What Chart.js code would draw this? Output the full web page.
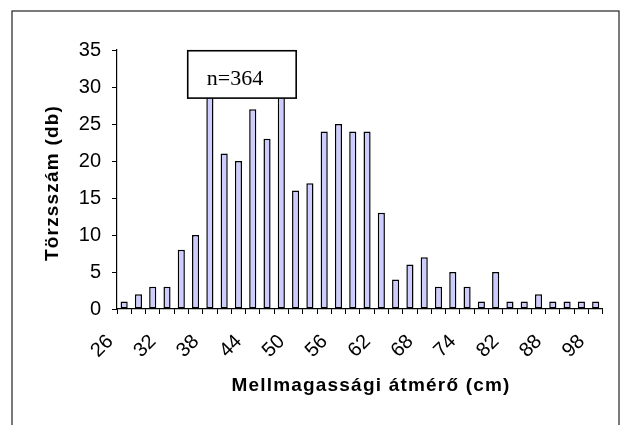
<!DOCTYPE html>
<html>
<head>
<meta charset="utf-8">
<script src="https://cdn.jsdelivr.net/npm/chart.js@4"></script>
<style>
  html, body { margin: 0; padding: 0; background: #fff; }
  #wrap { width: 629px; height: 425px; }
</style>
</head>
<body>
<div id="wrap"><canvas id="chart" width="629" height="425"></canvas></div>
<script>
// diameter classes (cm) and tree counts per class
const diameters = [26, 28, 30, 32, 34, 36, 38, 40, 42, 44, 46, 48, 50, 52, 54, 56, 58,
  60, 62, 64, 66, 68, 70, 72, 74, 76, 80, 82, 84, 86, 88, 92, 94, 98];
const treeCounts = [1, 2, 3, 3, 8, 10, 31, 21, 20, 27, 23, 30, 16, 17, 24, 25, 24,
  24, 13, 4, 6, 7, 3, 5, 3, 1, 5, 1, 1, 2, 1, 1, 1, 1];
const yTicks = [0, 5, 10, 15, 20, 25, 30, 35];
const sampleNote = "n=364";
const xTitle = "Mellmagassági átmérő (cm)";
const yTitle = "Törzsszám (db)";

const SANS = "'Liberation Sans', Arial, sans-serif";
const SERIF = "'Liberation Serif', 'Times New Roman', serif";

// white background + outer frame
const framePlugin = {
  id: "frame",
  beforeDraw(chart) {
    const ctx = chart.ctx;
    ctx.save();
    ctx.fillStyle = "#fff";
    ctx.fillRect(0, 0, chart.width, chart.height);
    ctx.strokeStyle = "#222";
    ctx.lineWidth = 1.2;
    ctx.strokeRect(12, 11, 607, 460);
    ctx.restore();
  }
};

// the "n=" text box sits on top of the tallest bars
const noteBoxPlugin = {
  id: "noteBox",
  afterDatasetsDraw(chart) {
    const { ctx, scales: { x, y } } = chart;
    const left = x.getPixelForValue(4.45);
    const right = x.getPixelForValue(12.04);
    const top = y.getPixelForValue(34.9);
    const bottom = y.getPixelForValue(28.5);
    ctx.save();
    ctx.fillStyle = "#fff";
    ctx.fillRect(left, top, right - left, bottom - top);
    ctx.strokeStyle = "#000";
    ctx.lineWidth = 1.6;
    ctx.strokeRect(left, top, right - left, bottom - top);
    ctx.fillStyle = "#000";
    ctx.font = "22px " + SERIF;
    ctx.textBaseline = "alphabetic";
    ctx.textAlign = "left";
    ctx.fillText(sampleNote, left + 19, top + 34);
    ctx.restore();
  }
};

// axis titles, bold and slightly spaced
const axisTitlePlugin = {
  id: "axisTitles",
  afterDraw(chart) {
    const ctx = chart.ctx;
    ctx.save();
    ctx.fillStyle = "#000";
    ctx.font = "bold 19px " + SANS;
    ctx.letterSpacing = "1.2px";
    ctx.textAlign = "center";
    ctx.textBaseline = "middle";
    ctx.fillText(xTitle, 371, 386);
    ctx.translate(53, 183);
    ctx.rotate(-Math.PI / 2);
    ctx.fillText(yTitle, 0, 0);
    ctx.restore();
  }
};

new Chart(document.getElementById("chart"), {
  type: "bar",
  data: {
    labels: diameters,
    datasets: [{
      data: treeCounts,
      backgroundColor: "#ccccff",
      borderColor: "#000",
      borderWidth: 1.5,
      borderSkipped: false,
      categoryPercentage: 1,
      barPercentage: 0.5
    }]
  },
  options: {
    responsive: false,
    animation: false,
    layout: { padding: { top: 50, right: 24, left: 0, bottom: 0 } },
    plugins: { legend: { display: false }, tooltip: { enabled: false } },
    scales: {
      x: {
        offset: true,
        grid: { display: true, offset: true, drawOnChartArea: false, drawTicks: true, tickLength: 5, color: "#000" },
        border: { display: true, color: "#000", width: 1.2 },
        ticks: {
          autoSkip: false,
          maxRotation: 45,
          minRotation: 45,
          padding: 16,
          labelOffset: -14,
          color: "#000",
          font: { family: SANS, size: 20 },
          callback: (v, i) => (i % 3 === 0 ? diameters[i] : "")
        },
        afterFit(scale) { scale.height = 116; }
      },
      y: {
        min: yTicks[0],
        max: yTicks[yTicks.length - 1],
        afterBuildTicks(scale) { scale.ticks = yTicks.map(v => ({ value: v })); },
        grid: { display: true, drawOnChartArea: false, drawTicks: true, tickLength: 5, color: "#000" },
        border: { display: true, color: "#000", width: 1.2 },
        ticks: {
          padding: 11,
          color: "#000",
          font: { family: SANS, size: 20 }
        },
        afterFit(scale) { scale.width = 117; }
      }
    }
  },
  plugins: [framePlugin, noteBoxPlugin, axisTitlePlugin]
});
</script>
</body>
</html>
